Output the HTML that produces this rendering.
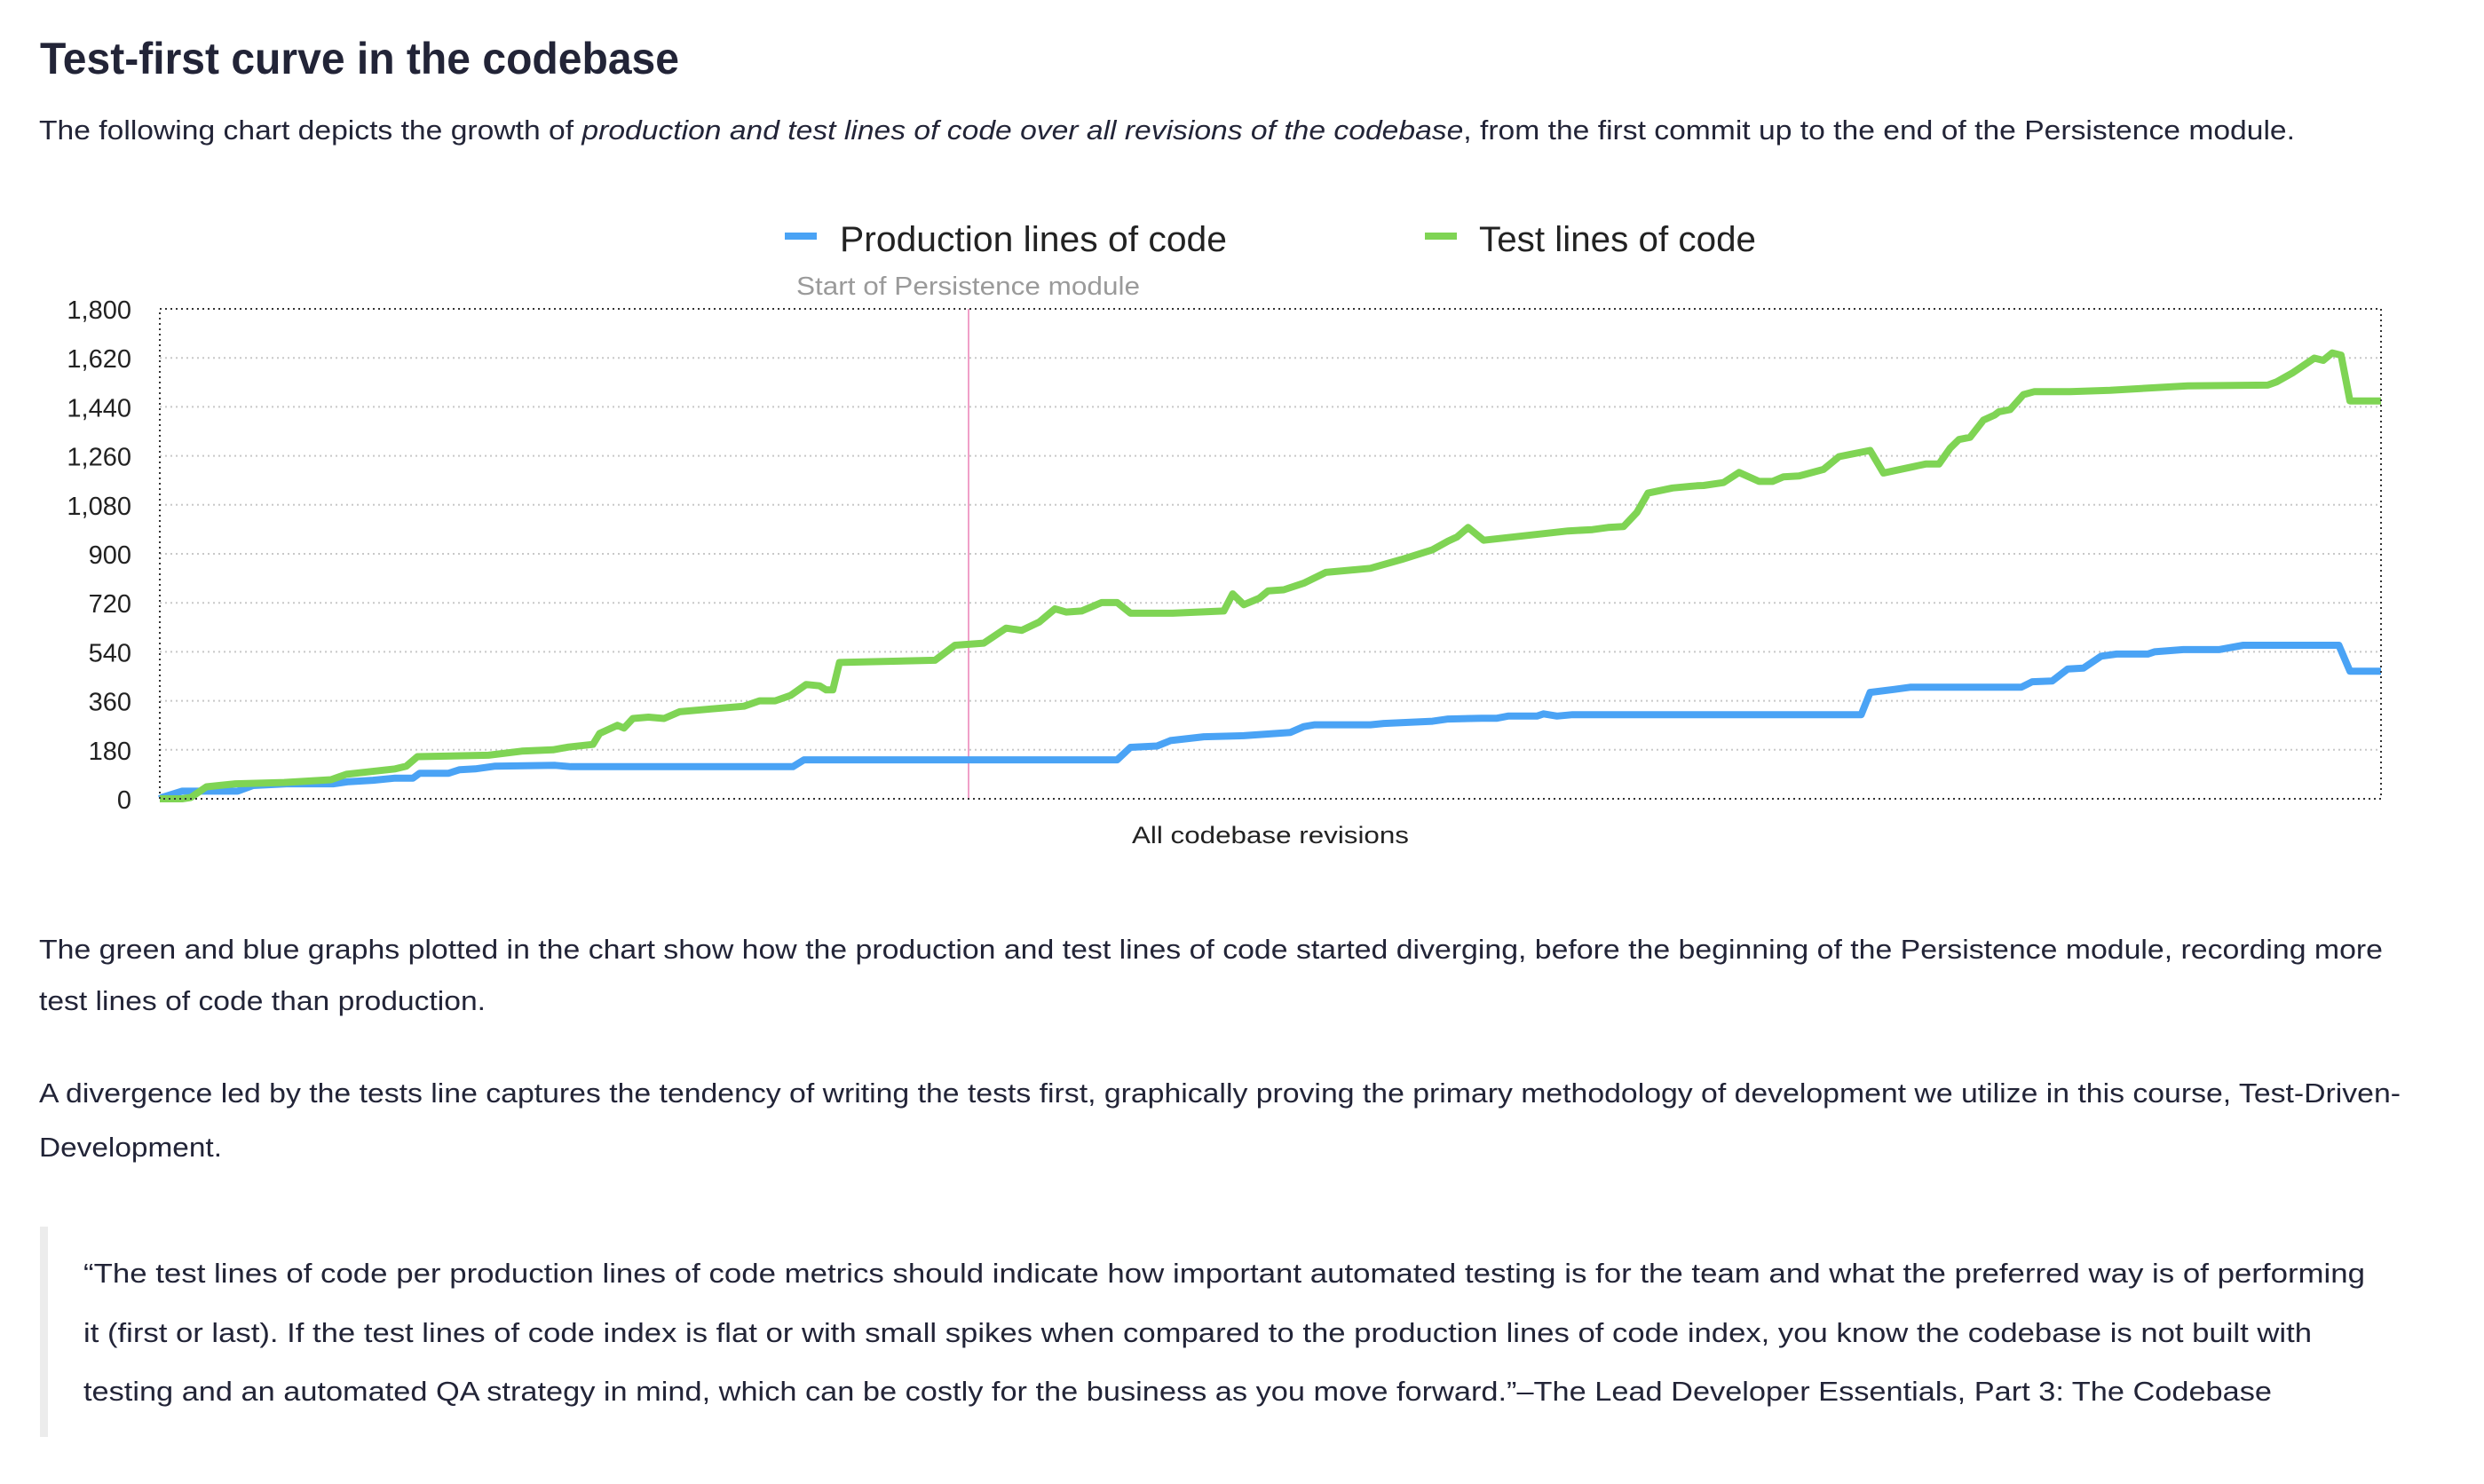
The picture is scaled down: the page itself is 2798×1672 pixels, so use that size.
<!DOCTYPE html>
<html><head><meta charset="utf-8"><style>
html,body{margin:0;padding:0;background:#fff;}
svg{display:block;}
text{font-family:"Liberation Sans",sans-serif;}
</style></head><body>
<svg id="page" width="2798" height="1672" viewBox="0 0 2798 1672" xmlns="http://www.w3.org/2000/svg">
  <text x="45" y="83" font-size="50" font-weight="bold" fill="#222437" textLength="720" lengthAdjust="spacingAndGlyphs">Test-first curve in the codebase</text>
  <text x="44" y="157" font-size="31" fill="#222437" textLength="2541" lengthAdjust="spacingAndGlyphs">The following chart depicts the growth of <tspan font-style="italic">production and test lines of code over all revisions of the codebase</tspan>, from the first commit up to the end of the Persistence module.</text>

  <g id="chart">
    <g id="grid"></g>
    <g id="yticks"></g>
    <line x1="1091" y1="348" x2="1091" y2="900" stroke="#f0a0c8" stroke-width="2"/>
    <text x="897" y="332" font-size="29" fill="#9a9a9a" textLength="387" lengthAdjust="spacingAndGlyphs">Start of Persistence module</text>
    <g id="series"></g>
    <rect x="180" y="348" width="2502" height="552" fill="none" stroke="#333" stroke-width="2" stroke-dasharray="2 4"/>
    <text x="1431" y="950" font-size="27" fill="#222" text-anchor="middle" textLength="312" lengthAdjust="spacingAndGlyphs">All codebase revisions</text>
    <g>
      <g>
        <rect x="884" y="262" width="36" height="8" fill="#4aa3f5"/>
        <text x="946" y="283" font-size="40" fill="#222" textLength="436" lengthAdjust="spacingAndGlyphs">Production lines of code</text>
      </g>
      <g>
        <rect x="1605" y="262" width="36" height="8" fill="#7fd454"/>
        <text x="1666" y="283" font-size="40" fill="#222" textLength="312" lengthAdjust="spacingAndGlyphs">Test lines of code</text>
      </g>
    </g>
  </g>

  <text x="44" y="1080" font-size="31" fill="#222437" textLength="2640" lengthAdjust="spacingAndGlyphs">The green and blue graphs plotted in the chart show how the production and test lines of code started diverging, before the beginning of the Persistence module, recording more</text>
  <text x="44" y="1138" font-size="31" fill="#222437" textLength="503" lengthAdjust="spacingAndGlyphs">test lines of code than production.</text>
  <text x="44" y="1242" font-size="31" fill="#222437" textLength="2660" lengthAdjust="spacingAndGlyphs">A divergence led by the tests line captures the tendency of writing the tests first, graphically proving the primary methodology of development we utilize in this course, Test-Driven-</text>
  <text x="44" y="1303" font-size="31" fill="#222437" textLength="206" lengthAdjust="spacingAndGlyphs">Development.</text>

  <rect x="45" y="1382" width="9" height="237" fill="#ececec"/>
  <text x="94" y="1445" font-size="31" fill="#222437" textLength="2570" lengthAdjust="spacingAndGlyphs">“The test lines of code per production lines of code metrics should indicate how important automated testing is for the team and what the preferred way is of performing</text>
  <text x="94" y="1512" font-size="31" fill="#222437" textLength="2510" lengthAdjust="spacingAndGlyphs">it (first or last). If the test lines of code index is flat or with small spikes when compared to the production lines of code index, you know the codebase is not built with</text>
  <text x="94" y="1578" font-size="31" fill="#222437" textLength="2465" lengthAdjust="spacingAndGlyphs">testing and an automated QA strategy in mind, which can be costly for the business as you move forward.”–The Lead Developer Essentials, Part 3: The Codebase</text>
</svg>
<script>
const yTicks = [0,180,360,540,720,900,1080,1260,1440,1620,1800];
const yTickLabels = ["0","180","360","540","720","900","1,080","1,260","1,440","1,620","1,800"];
const testRev = [0,10,14,21,34,56,77,84,95,106,111,116,148,163,177,184,195,198,206,209,213,220,227,234,248,263,270,277,284,291,297,300,303,306,349,358,371,381,388,396,403,408,415,424,431,437,456,479,483,488,495,499,506,515,525,545,559,573,580,584,589,596,634,645,652,659,665,670,681,692,695,704,711,720,726,731,738,749,756,770,776,795,801,806,810,815,821,826,828,833,839,844,860,878,913,949,953,960,970,974,978,982,986,1000];
const testLoc = [0,0,5,44,55,60,70,90,100,110,120,155,160,175,180,190,200,240,270,260,295,300,295,320,330,340,360,360,380,420,415,400,400,501,509,564,572,627,619,650,698,686,690,721,721,682,682,690,753,713,737,764,768,792,832,847,879,915,947,962,997,950,984,989,997,1000,1052,1123,1142,1150,1151,1162,1199,1166,1166,1183,1186,1210,1257,1280,1197,1230,1230,1288,1320,1328,1391,1410,1422,1430,1485,1496,1496,1501,1517,1520,1532,1564,1619,1611,1638,1630,1462,1462];
const prodRev = [0,1,10,35,42,57,78,85,96,106,114,117,130,135,142,151,178,185,285,290,431,437,449,455,470,488,509,515,520,545,551,573,580,595,602,607,620,623,629,636,766,770,781,788,838,843,852,859,866,874,881,895,898,911,927,938,981,986,1000];
const prodLoc = [0,5,28,28,49,55,55,63,68,76,76,94,94,107,110,120,123,118,118,143,143,189,194,214,228,232,244,265,272,272,277,285,293,296,296,304,304,312,304,309,309,391,402,410,410,430,433,477,480,524,532,532,540,548,548,564,564,469,469];

const NS = "http://www.w3.org/2000/svg";
const X0 = 180, X1 = 2682, Y0 = 900, Y1 = 348;
const revMax = 1000, locMax = 1800;
function xScale(r){ return X0 + r / revMax * (X1 - X0); }
function yScale(v){ return Y0 - v / locMax * (Y0 - Y1); }

const grid = document.getElementById('grid');
const yt = document.getElementById('yticks');
yTicks.forEach((t, i) => {
  if (t > 0 && t < locMax) {
    const l = document.createElementNS(NS, 'line');
    
    
    l.setAttribute('x1', X0); l.setAttribute('x2', X1);
    l.setAttribute('y1', yScale(t)); l.setAttribute('y2', yScale(t));
    l.setAttribute('stroke', '#c8c8c8'); l.setAttribute('stroke-width', '2');
    l.setAttribute('stroke-dasharray', '2 4');
    grid.appendChild(l);
  }
  const tx = document.createElementNS(NS, 'text');
  
  
  tx.setAttribute('x', 148); tx.setAttribute('y', yScale(t) + 11);
  tx.setAttribute('text-anchor', 'end'); tx.setAttribute('font-size', '29');
  tx.setAttribute('fill', '#222');
  tx.textContent = yTickLabels[i];
  yt.appendChild(tx);
});

function drawLine(revs, vals, color, name){
  const p = document.createElementNS(NS, 'polyline');
  
  
  p.setAttribute('points', revs.map((r, i) => xScale(r).toFixed(1) + ',' + yScale(vals[i]).toFixed(1)).join(' '));
  p.setAttribute('fill', 'none'); p.setAttribute('stroke', color);
  p.setAttribute('stroke-width', '8'); p.setAttribute('stroke-linejoin', 'round');
  document.getElementById('series').appendChild(p);
}
drawLine(prodRev, prodLoc, '#4aa3f5', 'production-loc-line');
drawLine(testRev, testLoc, '#7fd454', 'test-loc-line');
</script>
</body></html>
